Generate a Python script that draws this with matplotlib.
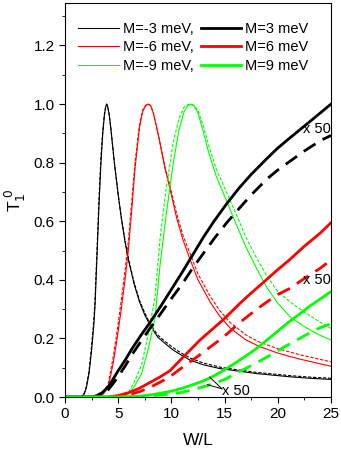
import matplotlib
matplotlib.use('Agg')
import matplotlib.pyplot as plt
from matplotlib.ticker import MultipleLocator
from matplotlib.lines import Line2D

plt.rcParams['font.family'] = ['Liberation Sans', 'DejaVu Sans']

# M=-3 meV (thin black)
w_m3 = [0, 1.5, 1.8, 2.0, 2.26, 2.5, 2.7, 2.82, 3.05, 3.2, 3.38, 3.55, 3.7, 3.82, 3.92, 4.02, 4.15, 4.3, 4.64,
        5.0, 5.3, 5.64, 5.95, 6.5, 7.0, 7.5, 8.0, 8.7, 9.4, 10.1, 10.8, 11.75, 13.0, 14.57, 16.0,
        18.0, 21.15, 23.0, 25]
t_m3 = [0, 0, 0.01, 0.03, 0.08, 0.16, 0.24, 0.31, 0.52, 0.66, 0.80, 0.90, 0.96, 0.99, 1.0, 0.99, 0.965, 0.92, 0.80,
        0.69, 0.61, 0.53, 0.47, 0.385, 0.325, 0.28, 0.245, 0.205, 0.183, 0.162, 0.146, 0.126, 0.11, 0.097, 0.09,
        0.08, 0.069, 0.064, 0.06]
t_m3_d = [0, 0, 0.012, 0.035, 0.09, 0.175, 0.26, 0.33, 0.54, 0.68, 0.82, 0.91, 0.965, 0.99, 1.0, 0.99, 0.965, 0.92, 0.80,
          0.69, 0.61, 0.535, 0.475, 0.39, 0.33, 0.287, 0.25, 0.212, 0.19, 0.17, 0.153, 0.133, 0.116, 0.102, 0.094,
          0.084, 0.073, 0.068, 0.064]

# M=-6 meV (thin red)
w_m6 = [0, 3.2, 3.6, 4.07, 4.5, 4.86, 5.25, 5.64, 5.95, 6.3, 6.58, 7.0, 7.3, 7.6, 7.83, 8.05, 8.3, 8.8, 9.4, 9.87,
        10.5, 11.1, 11.75, 12.5, 13.63, 14.5, 15.5, 17.0, 18.3, 20.0, 22.0, 25]
t_m6 = [0, 0, 0.01, 0.035, 0.11, 0.19, 0.29, 0.40, 0.50, 0.65, 0.78, 0.92, 0.975, 0.995, 1.0, 0.995, 0.97, 0.89, 0.78, 0.71,
        0.61, 0.535, 0.47, 0.40, 0.325, 0.278, 0.236, 0.195, 0.172, 0.15, 0.13, 0.105]
t_m6_d = [0, 0, 0.015, 0.045, 0.13, 0.215, 0.32, 0.43, 0.53, 0.68, 0.80, 0.93, 0.98, 0.997, 1.0, 0.995, 0.97, 0.89, 0.785, 0.72,
          0.625, 0.55, 0.49, 0.42, 0.345, 0.297, 0.255, 0.212, 0.187, 0.165, 0.145, 0.12]

# M=-9 meV (thin green)
w_m9 = [0, 5.0, 5.5, 6.0, 6.5, 7.2, 7.8, 8.46, 8.93, 9.5, 10.18, 10.7, 11.2, 11.55, 11.84, 12.15, 12.5, 13.0, 13.5,
        14.2, 15.35, 16.2, 17.07, 18.0, 18.95, 20.0, 21.15, 22.5, 24.0, 25]
t_m9 = [0, 0, 0.003, 0.012, 0.035, 0.08, 0.16, 0.27, 0.45, 0.62, 0.80, 0.91, 0.975, 0.995, 1.0, 0.993, 0.97, 0.905, 0.835,
        0.755, 0.655, 0.58, 0.507, 0.44, 0.375, 0.32, 0.274, 0.24, 0.21, 0.195]
t_m9_d = [0, 0, 0.005, 0.018, 0.05, 0.11, 0.21, 0.34, 0.54, 0.71, 0.87, 0.95, 0.99, 0.998, 1.0, 0.995, 0.978, 0.925, 0.86,
          0.78, 0.685, 0.615, 0.54, 0.475, 0.415, 0.36, 0.325, 0.29, 0.255, 0.234]

# M=3 meV (thick black, x 50)
w_p3 = [0, 2.5, 3.0, 3.5, 4.07, 4.5, 5.0, 5.64, 6.3, 7.05, 8.0, 9.0, 9.87, 11.0, 12.0, 13.0, 14.0, 15.2,
        16.4, 17.5, 19.0, 20.0, 21.15, 22.5, 24.0, 25]
t_p3 = [0, 0, 0.005, 0.015, 0.035, 0.06, 0.09, 0.125, 0.165, 0.206, 0.255, 0.31, 0.36, 0.425, 0.485, 0.545, 0.60,
        0.66, 0.715, 0.76, 0.815, 0.85, 0.885, 0.925, 0.97, 1.0]
t_p3_d = [0, 0, 0.002, 0.01, 0.025, 0.045, 0.07, 0.105, 0.145, 0.185, 0.235, 0.285, 0.33, 0.385, 0.44, 0.49, 0.54,
          0.595, 0.645, 0.69, 0.745, 0.775, 0.805, 0.84, 0.875, 0.893]

# M=6 meV (thick red, x 50)
w_p6 = [0, 4.0, 5.0, 6.0, 7.0, 8.0, 9.0, 9.87, 10.8, 11.75, 12.7, 13.8, 14.9, 16.45, 17.5, 18.6, 20.0,
        21.15, 22.5, 24.0, 25]
t_p6 = [0, 0, 0.005, 0.015, 0.03, 0.05, 0.07, 0.09, 0.125, 0.16, 0.195, 0.23, 0.265, 0.32, 0.355, 0.39, 0.435,
        0.47, 0.515, 0.56, 0.595]
t_p6_d = [0, 0, 0.002, 0.008, 0.018, 0.033, 0.052, 0.07, 0.095, 0.12, 0.145, 0.175, 0.205, 0.255, 0.285, 0.315, 0.35,
          0.371, 0.405, 0.44, 0.468]

# M=9 meV (thick green, x 50)
w_p9 = [0, 5.0, 7.0, 8.0, 9.0, 10.0, 11.0, 12.0, 13.0, 14.0, 15.0, 16.0, 17.0, 18.0, 19.0, 20.0, 21.0,
        22.0, 23.0, 24.0, 25]
t_p9 = [0, 0, 0.003, 0.007, 0.013, 0.02, 0.03, 0.042, 0.055, 0.072, 0.093, 0.116, 0.14, 0.166, 0.195, 0.225, 0.255,
        0.282, 0.31, 0.335, 0.36]
t_p9_d = [0, 0, 0.001, 0.004, 0.007, 0.01, 0.016, 0.025, 0.035, 0.046, 0.06, 0.079, 0.098, 0.117, 0.137, 0.158, 0.179,
          0.199, 0.219, 0.237, 0.25]

BLACK, RED, GREEN = 'black', '#ff0000', '#00ff00'

fig = plt.figure(figsize=(3.41, 4.51), dpi=100)
ax = fig.add_axes([0.1906, 0.1197, 0.7801, 0.8736])

thin, thick = 0.8, 2.0
for w, ts, td, c in [(w_m3, t_m3, t_m3_d, BLACK), (w_m6, t_m6, t_m6_d, RED), (w_m9, t_m9, t_m9_d, GREEN)]:
    ax.plot(w, ts, color=c, lw=thin)
    ax.plot(w, td, color=c, lw=thin, ls=(0, (3, 1.5)))
for w, ts, td, c in [(w_p3, t_p3, t_p3_d, BLACK), (w_p6, t_p6, t_p6_d, RED), (w_p9, t_p9, t_p9_d, GREEN)]:
    ax.plot(w, ts, color=c, lw=thick)
    ax.plot(w, td, color=c, lw=thick, ls=(0, (5, 3)))

ax.text(24.95, 0.915, 'x 50', fontsize=10.5, ha='right', va='center')
ax.text(24.95, 0.40, 'x 50', fontsize=10.5, ha='right', va='center')
ax.text(14.8, 0.022, 'x 50', fontsize=10.5, ha='left', va='center')
ax.plot([14.75, 13.6], [0.028, 0.068], color='black', lw=0.7)
ax.plot([14.75, 13.4], [0.028, 0.042], color='black', lw=0.7)

ax.set_xlim(0, 25)
ax.set_ylim(0, 1.345)
ax.xaxis.set_major_locator(MultipleLocator(5))
ax.xaxis.set_minor_locator(MultipleLocator(2.5))
ax.yaxis.set_major_locator(MultipleLocator(0.2))
ax.yaxis.set_minor_locator(MultipleLocator(0.1))
ax.tick_params(which='both', direction='out', top=False, right=False, labelsize=11)
ax.tick_params(which='major', length=4)
ax.tick_params(which='minor', length=2.5)
ax.set_yticks([0, 0.2, 0.4, 0.6, 0.8, 1.0, 1.2])
ax.set_yticklabels(['0.0', '0.2', '0.4', '0.6', '0.8', '1.0', '1.2'])
ax.set_xlabel('W/L', fontsize=12.5, labelpad=8)
ax.set_ylabel(r'T$_1^{\ 0}$', fontsize=12.5, labelpad=4)

handles = [Line2D([], [], color=BLACK, lw=thin), Line2D([], [], color=RED, lw=thin),
           Line2D([], [], color=GREEN, lw=thin), Line2D([], [], color=BLACK, lw=thick),
           Line2D([], [], color=RED, lw=thick), Line2D([], [], color=GREEN, lw=thick)]
labels = ['M=-3 meV,', 'M=-6 meV,', 'M=-9 meV,', 'M=3 meV', 'M=6 meV', 'M=9 meV']
ax.legend(handles, labels, ncol=2, frameon=False, fontsize=10.5, loc='upper left',
          bbox_to_anchor=(0.0, 0.985), handlelength=2.8, handletextpad=0.25,
          columnspacing=0.5, labelspacing=0.3)

fig.savefig('out.png', dpi=100)
